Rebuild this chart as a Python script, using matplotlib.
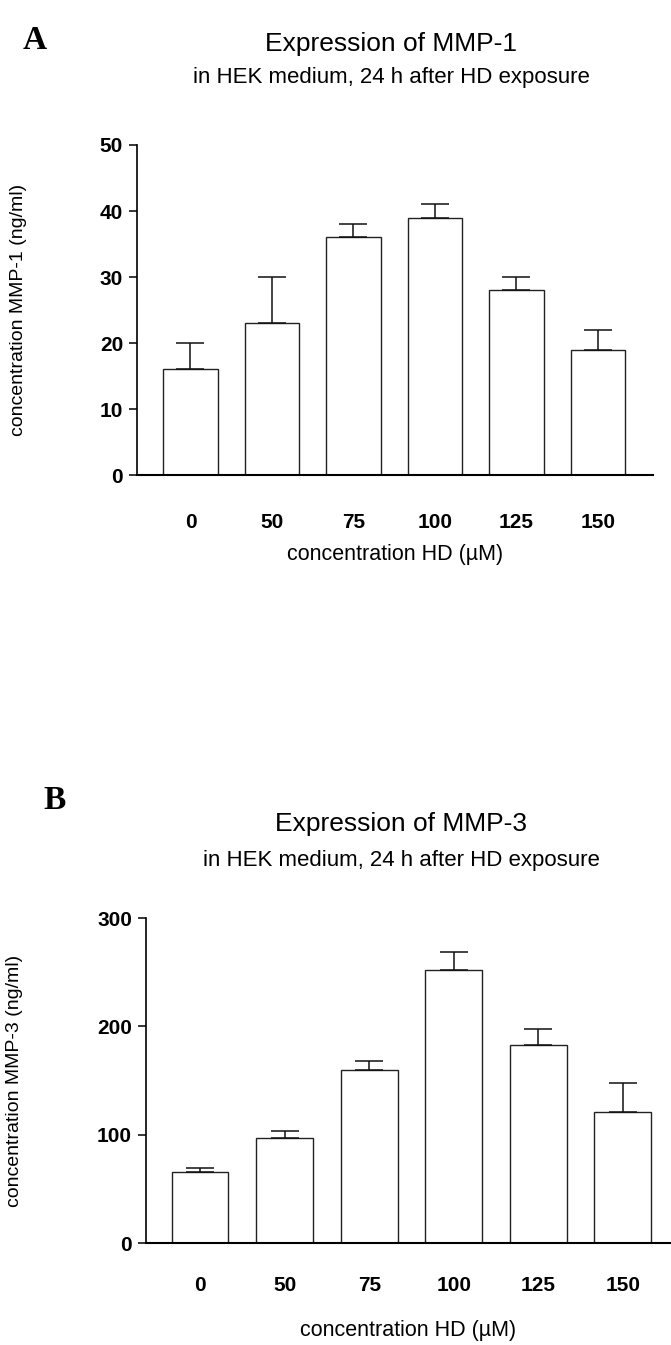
import matplotlib
matplotlib.use("Agg")
import matplotlib.pyplot as plt

plt.rcParams['font.family'] = ['Liberation Sans', 'DejaVu Sans']

doses = ["0", "50", "75", "100", "125", "150"]

mmp1_mean = [16, 23, 36, 39, 28, 19]
mmp1_err  = [4, 7, 2, 2, 2, 3]

mmp3_mean = [66, 97, 160, 252, 183, 121]
mmp3_err  = [3, 6, 8, 17, 15, 27]

fig = plt.figure(figsize=(6.71, 13.45), dpi=100)


def panel(ax, means, errs, ymax, step, ylabel, xlim, ylab_x, tpad, lpad):
    pos = range(len(doses))
    ax.bar(pos, means, width=0.67, color="white", edgecolor="#222222",
           linewidth=1.0, zorder=2)
    ax.errorbar(pos, means, yerr=[[0] * len(errs), errs], fmt="none",
                ecolor="#111111", elinewidth=1.1, capsize=10, capthick=1.1,
                zorder=3)
    ax.set_xlim(*xlim)
    ax.set_ylim(0, ymax)
    ax.set_yticks(range(0, ymax + 1, step))
    ax.set_xticks(list(pos))
    ax.set_xticklabels(doses)
    for s in ["top", "right"]:
        ax.spines[s].set_visible(False)
    ax.spines["left"].set_linewidth(1.2)
    ax.spines["bottom"].set_linewidth(1.5)
    ax.tick_params(axis="y", direction="out", length=6, width=1.1, pad=4,
                   labelsize=15)
    ax.tick_params(axis="x", length=0, pad=tpad, labelsize=15)
    for t in ax.get_xticklabels() + ax.get_yticklabels():
        t.set_fontweight("bold")
    ax.set_xlabel("concentration HD (µM)", fontsize=15.5, labelpad=lpad)
    ax.set_ylabel(ylabel, fontsize=14)
    ax.yaxis.set_label_coords(ylab_x, 0.5)


# panel A
axA = fig.add_axes([0.2042, 0.6468, 0.7688, 0.2454])
panel(axA, mmp1_mean, mmp1_err, 50, 10, "concentration MMP-1 (ng/ml)",
      (-0.656, 5.675), -0.213, 27, 9)

# panel B
axB = fig.add_axes([0.2176, 0.0758, 0.7824, 0.2416])
panel(axB, mmp3_mean, mmp3_err, 300, 100, "concentration MMP-3 (ng/ml)",
      (-0.64, 5.57), -0.234, 24, 18)

fig.text(0.052, 0.970, "A", fontsize=24, fontweight="bold",
         family="Liberation Serif", ha="center", va="center")
fig.text(0.583, 0.9675, "Expression of MMP-1", fontsize=19,
         ha="center", va="center")
fig.text(0.583, 0.9425, "in HEK medium, 24 h after HD exposure", fontsize=16,
         ha="center", va="center")

fig.text(0.082, 0.405, "B", fontsize=24, fontweight="bold",
         family="Liberation Serif", ha="center", va="center")
fig.text(0.598, 0.3875, "Expression of MMP-3", fontsize=19,
         ha="center", va="center")
fig.text(0.598, 0.3605, "in HEK medium, 24 h after HD exposure", fontsize=16,
         ha="center", va="center")

fig.savefig("out.png", dpi=100)
